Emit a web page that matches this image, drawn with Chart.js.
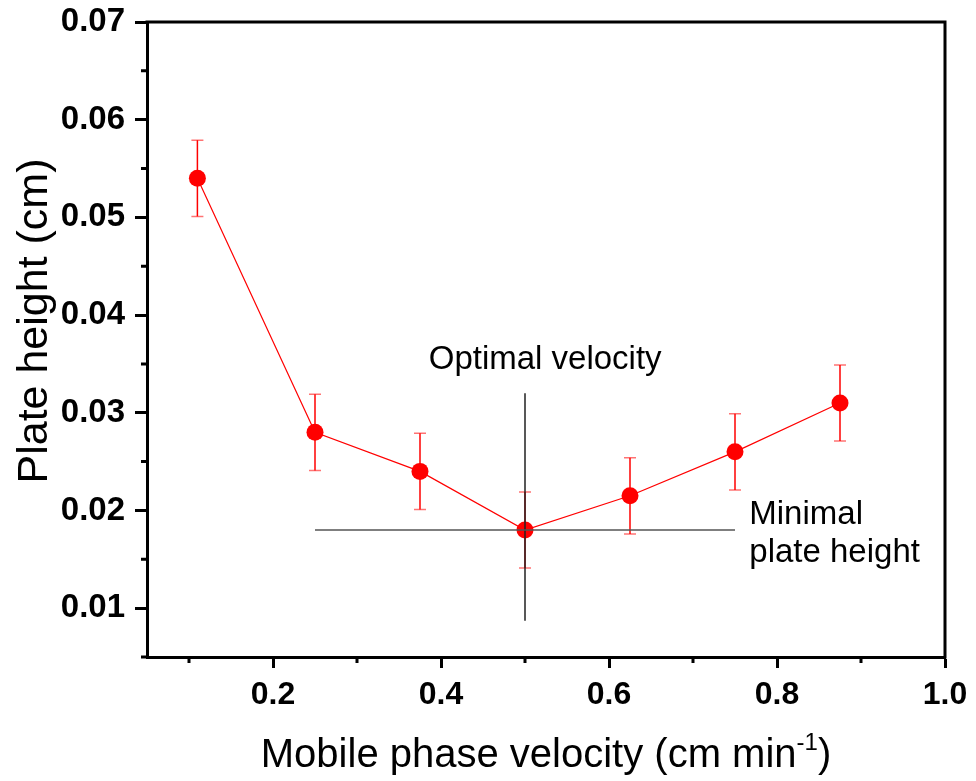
<!DOCTYPE html>
<html><head><meta charset="utf-8">
<script src="https://cdn.jsdelivr.net/npm/chart.js@4"></script>
<style>html,body{margin:0;padding:0;background:#fff}</style>
</head><body>
<canvas id="c" width="976" height="781"></canvas>
<script>
// ---- data ----
const velocity = [0.11, 0.25, 0.375, 0.5, 0.625, 0.75, 0.875];
const plateHeight = [0.054, 0.028, 0.024, 0.018, 0.0215, 0.026, 0.031];
const plateHeightErr = [0.0039, 0.0039, 0.0039, 0.0039, 0.0039, 0.0039, 0.0039];
const optimalLineX = [0.5, 0.5];
const optimalLineY = [0.032, 0.0087];
const minimalLineX = [0.25, 0.75];
const minimalLineY = [0.018, 0.018];
const xMajorTicks = [0.2, 0.4, 0.6, 0.8, 1.0];
const xMinorTicks = [0.1, 0.3, 0.5, 0.7, 0.9];
const yMajorTicks = [0.01, 0.02, 0.03, 0.04, 0.05, 0.06, 0.07];
const yMinorTicks = [0.005, 0.015, 0.025, 0.035, 0.045, 0.055, 0.065];
const xTitle = "Mobile phase velocity (cm min";
const xTitleSup = "-1";
const yTitle = "Plate height (cm)";
const annOptimal = "Optimal velocity";
const annMinimal = ["Minimal", "plate height"];

const FONT = "'Liberation Sans', Arial, sans-serif";

const extras = {
  id: 'extras',
  beforeDatasetsDraw(chart) {
    const ctx = chart.ctx, xs = chart.scales.x, ys = chart.scales.y;
    ctx.save();
    velocity.forEach((v, i) => {
      const px = xs.getPixelForValue(v);
      const pt = ys.getPixelForValue(plateHeight[i] + plateHeightErr[i]);
      const pb = ys.getPixelForValue(plateHeight[i] - plateHeightErr[i]);
      ctx.strokeStyle = '#ff0000'; ctx.lineWidth = 1.5;
      ctx.beginPath(); ctx.moveTo(px, pt); ctx.lineTo(px, pb); ctx.stroke();
      ctx.strokeStyle = 'rgba(255,0,0,0.55)';
      ctx.beginPath();
      ctx.moveTo(px - 6, pt); ctx.lineTo(px + 6, pt);
      ctx.moveTo(px - 6, pb); ctx.lineTo(px + 6, pb);
      ctx.stroke();
    });
    ctx.restore();
  },
  afterDraw(chart) {
    const ctx = chart.ctx, xs = chart.scales.x, ys = chart.scales.y, a = chart.chartArea;
    ctx.save();
    // frame top/right
    ctx.strokeStyle = '#000'; ctx.lineWidth = 3;
    ctx.beginPath();
    ctx.moveTo(a.left - 1.5, a.top); ctx.lineTo(a.right, a.top); ctx.lineTo(a.right, a.bottom + 1.5);
    ctx.stroke();
    // minor ticks
    ctx.beginPath();
    xMinorTicks.forEach(v => { const p = xs.getPixelForValue(v); ctx.moveTo(p, a.bottom); ctx.lineTo(p, a.bottom + 6); });
    yMinorTicks.forEach(v => { const p = ys.getPixelForValue(v); ctx.moveTo(a.left, p); ctx.lineTo(a.left - 6, p); });
    ctx.stroke();
    // annotations
    ctx.fillStyle = '#000';
    ctx.font = '33px ' + FONT;
    ctx.textBaseline = 'middle';
    ctx.textAlign = 'center';
    ctx.fillText(annOptimal, xs.getPixelForValue(0.524), ys.getPixelForValue(0.0354));
    ctx.textAlign = 'left';
    ctx.fillText(annMinimal[0], xs.getPixelForValue(0.767), ys.getPixelForValue(0.0195));
    ctx.fillText(annMinimal[1], xs.getPixelForValue(0.767), ys.getPixelForValue(0.0157));
    // x title with superscript
    ctx.textBaseline = 'alphabetic';
    const f1 = '40px ' + FONT, f2 = '24px ' + FONT;
    ctx.font = f1; const w1 = ctx.measureText(xTitle).width; const w3 = ctx.measureText(')').width;
    ctx.font = f2; const w2 = ctx.measureText(xTitleSup).width;
    let x0 = (a.left + a.right) / 2 - (w1 + w2 + w3) / 2;
    const base = a.bottom + 110;
    ctx.font = f1; ctx.fillText(xTitle, x0, base);
    ctx.font = f2; ctx.fillText(xTitleSup, x0 + w1, base - 17);
    ctx.font = f1; ctx.fillText(')', x0 + w1 + w2, base);
    // y title
    ctx.translate(35, 321);
    ctx.rotate(-Math.PI / 2);
    ctx.textAlign = 'center'; ctx.textBaseline = 'middle';
    ctx.font = '43px ' + FONT;
    ctx.fillText(yTitle, 0, 0);
    ctx.restore();
  }
};

new Chart(document.getElementById('c'), {
  type: 'scatter',
  data: {
    datasets: [
      { data: minimalLineX.map((x, i) => ({ x, y: minimalLineY[i] })), showLine: true, borderColor: '#555', borderWidth: 1.5, pointRadius: 0, order: 0 },
      { data: optimalLineX.map((x, i) => ({ x, y: optimalLineY[i] })), showLine: true, borderColor: '#222', borderWidth: 1.5, pointRadius: 0, order: 0 },
      { data: velocity.map((x, i) => ({ x, y: plateHeight[i] })), showLine: true, borderColor: '#ff0000', borderWidth: 1.2,
        pointRadius: 8.5, pointBackgroundColor: '#ff0000', pointBorderWidth: 0, order: 1 }
    ]
  },
  options: {
    responsive: false, animation: false, devicePixelRatio: 1,
    layout: { padding: { left: 0, right: 31, top: 22, bottom: 0 } },
    plugins: { legend: { display: false }, tooltip: { enabled: false } },
    scales: {
      x: {
        type: 'linear', min: 0.05, max: 1.0,
        afterBuildTicks: s => { s.ticks = xMajorTicks.map(v => ({ value: v })); },
        afterFit: s => { s.height = 124; },
        grid: { drawOnChartArea: false, drawTicks: true, tickLength: 11, tickWidth: 3, tickColor: '#000' },
        border: { display: true, color: '#000', width: 3 },
        ticks: { color: '#000', font: { family: FONT, weight: 'bold', size: 32 }, padding: 8, maxRotation: 0, autoSkip: false, callback: v => v.toFixed(1) }
      },
      y: {
        type: 'linear', min: 0.005, max: 0.07,
        afterBuildTicks: s => { s.ticks = yMajorTicks.map(v => ({ value: v })); },
        afterFit: s => { s.width = 147; s.paddingTop = 0; s.paddingBottom = 0; },
        grid: { drawOnChartArea: false, drawTicks: true, tickLength: 12, tickWidth: 3, tickColor: '#000' },
        border: { display: true, color: '#000', width: 3 },
        ticks: { color: '#000', font: { family: FONT, weight: 'bold', size: 33, lineHeight: 1.0 }, padding: 10, autoSkip: false, callback: v => v.toFixed(2) }
      }
    }
  },
  plugins: [extras]
});
</script>
</body></html>
